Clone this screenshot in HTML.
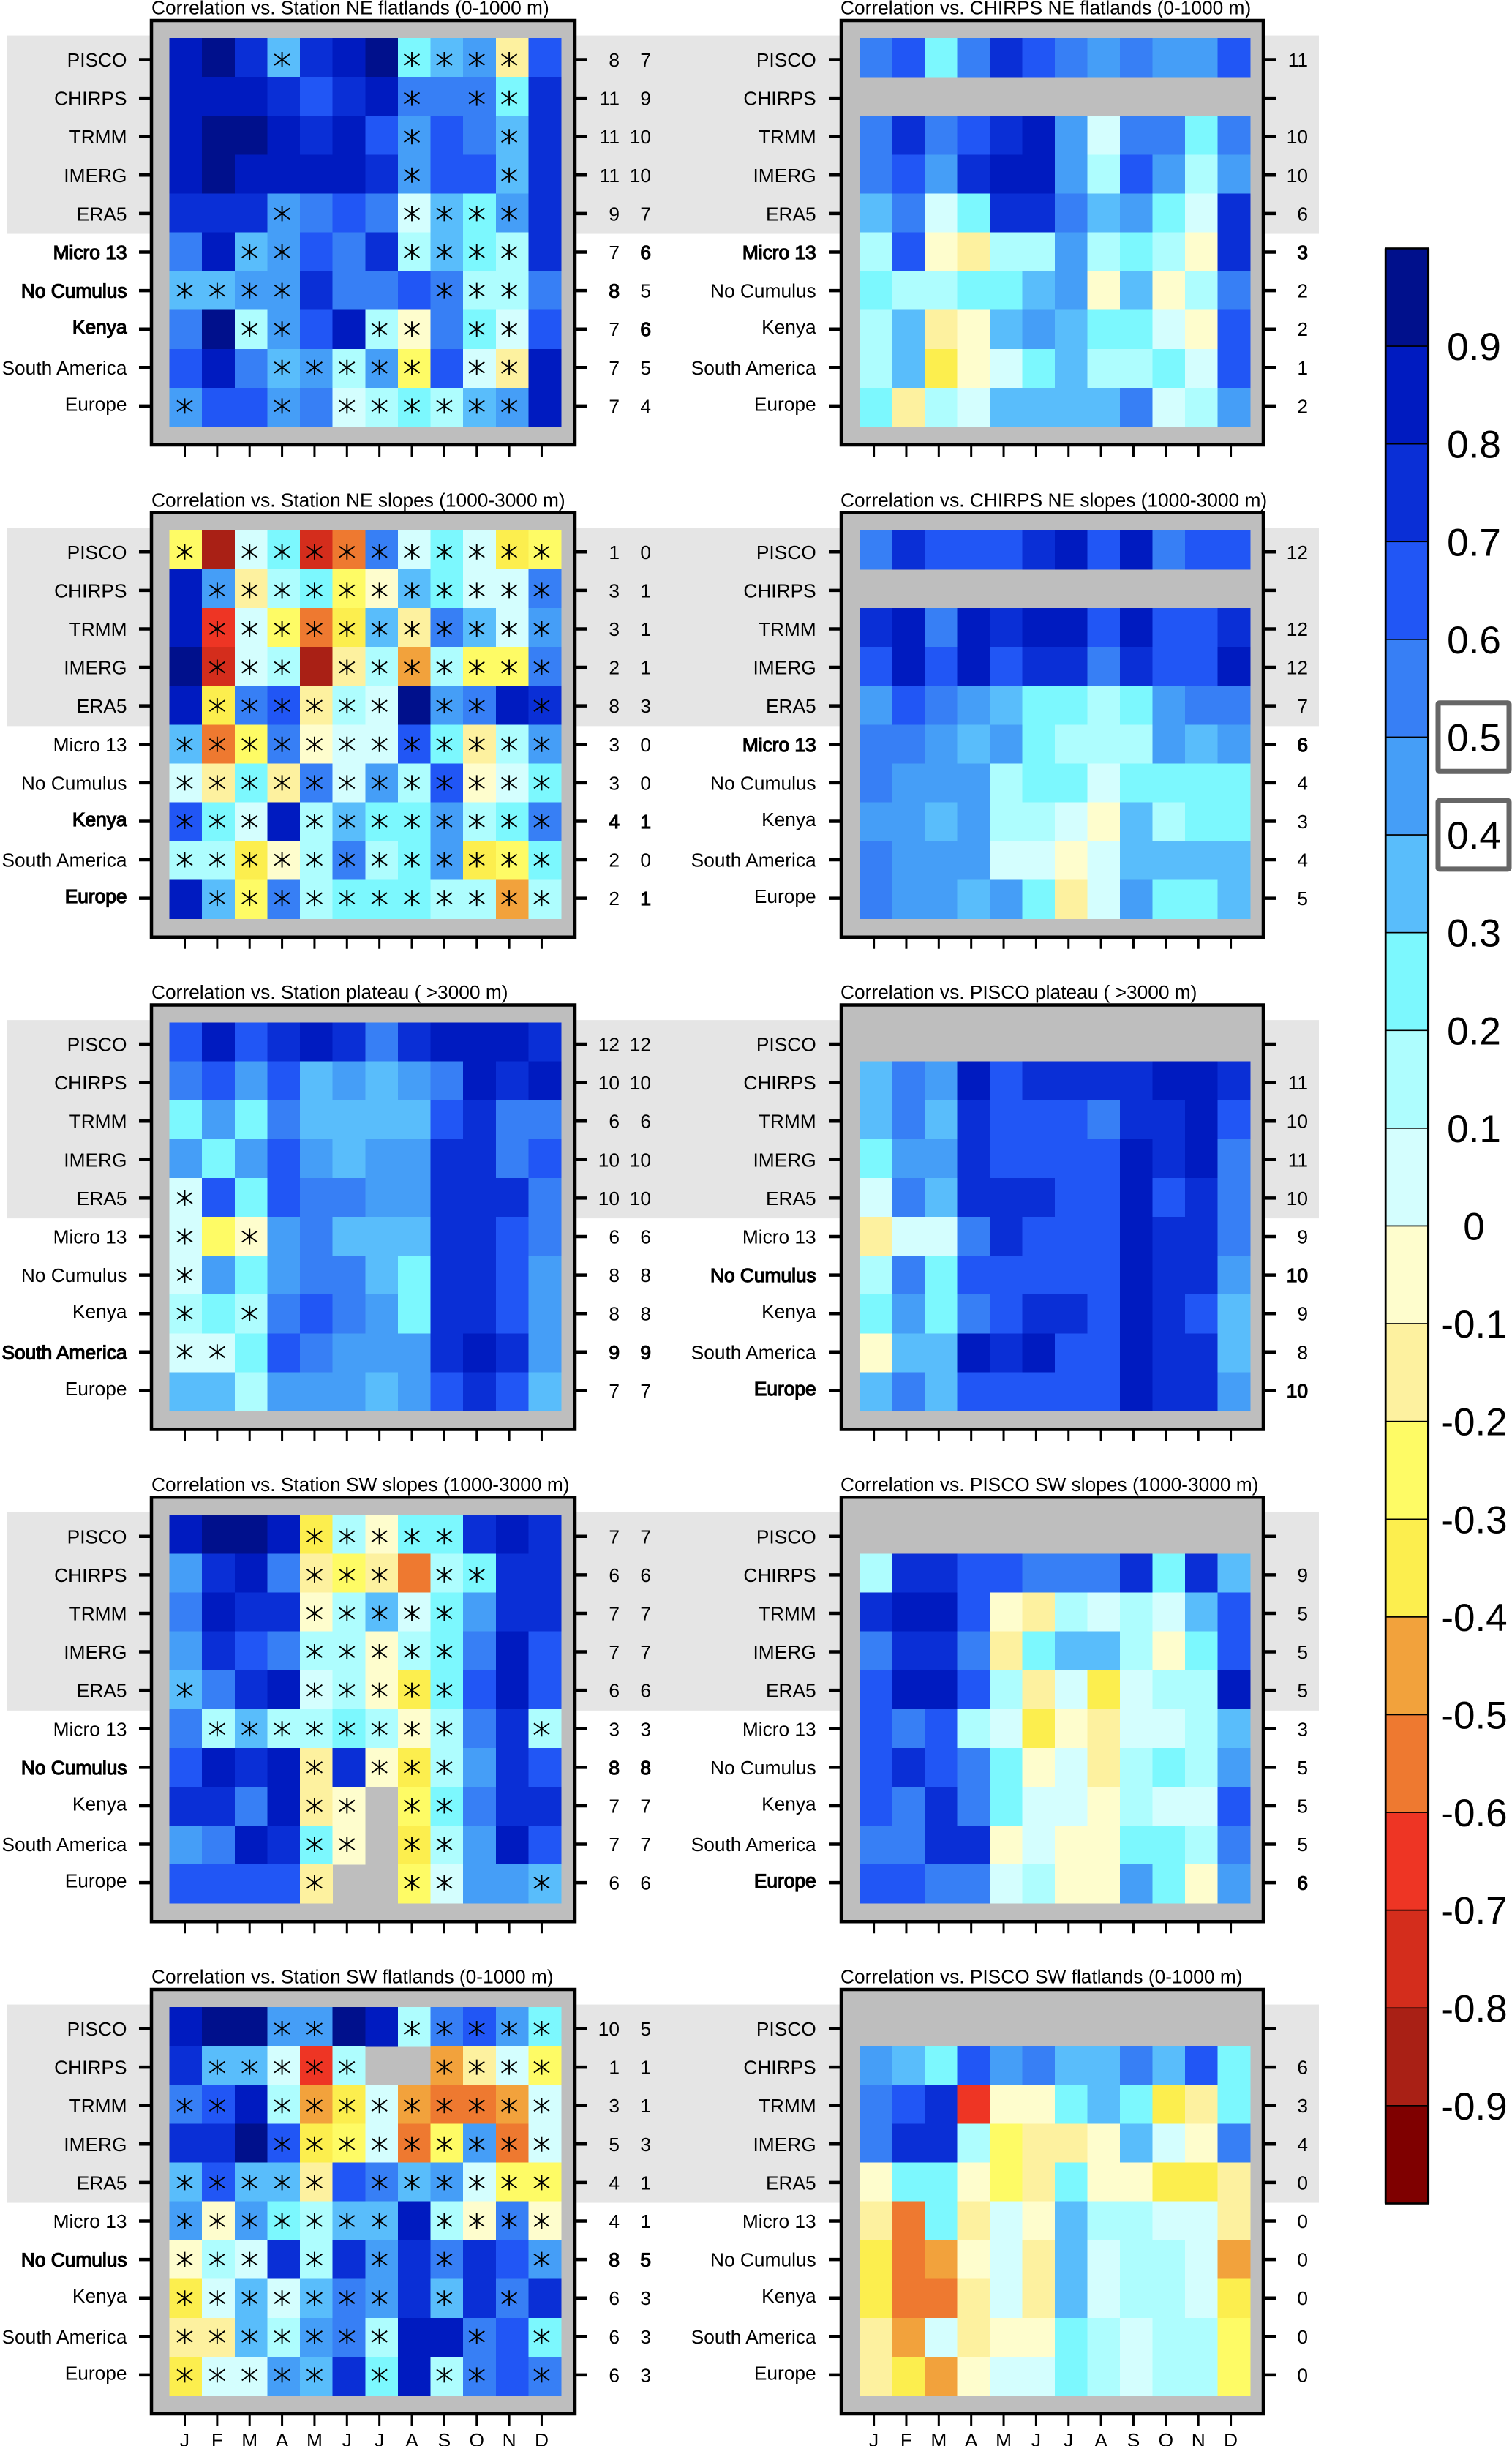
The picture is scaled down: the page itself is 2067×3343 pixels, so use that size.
<!DOCTYPE html>
<html lang="en">
<head>
<meta charset="utf-8">
<title>Correlation heatmaps</title>
<style>
html,body{margin:0;padding:0;background:#fff;}
svg{display:block;}
text{font-family:"Liberation Sans",Arial,sans-serif;fill:#000;}
</style>
</head>
<body>
<svg id="figure" xmlns="http://www.w3.org/2000/svg" width="2067" height="3343" viewBox="0 0 2067 3343">
<g id="bands"></g>
<g id="panels"></g>
<g id="colorbar"></g>
</svg>
<script>
// Shared categories
const rowLabels = ["PISCO","CHIRPS","TRMM","IMERG","ERA5","Micro 13","No Cumulus","Kenya","South America","Europe"];
const monthLabels = ["J","F","M","A","M","J","J","A","S","O","N","D"];
const colorbarLabels = ["0.9","0.8","0.7","0.6","0.5","0.4","0.3","0.2","0.1","0","-0.1","-0.2","-0.3","-0.4","-0.5","-0.6","-0.7","-0.8","-0.9"];
const highlightedLabels = ["0.5","0.4"];
const binColors = ["#00108c","#001bc0","#0a2fd6","#2156f5","#377ff5","#459ef7","#59bdfb","#7cf8fe","#aefdfe","#d4fefe","#fefdcd","#fdf19f","#fefb65","#fcee4e","#f2a23c","#ee7930","#ee3524","#d42d1c","#a92015","#7f0000"];

// Values are correlation x 100; null means no data
const N = null;
const title1 = "Correlation vs. Station NE flatlands (0-1000 m)";
const values1 = [
[85,95,75,35,75,85,95,25,35,45,-15,65],
[85,85,85,75,65,75,85,55,55,55,25,75],
[85,95,95,85,75,85,65,45,65,55,35,75],
[85,95,85,85,85,85,75,45,65,65,35,75],
[75,75,75,45,55,65,55,5,35,25,45,75],
[55,85,35,45,65,55,75,15,35,25,15,75],
[35,35,45,45,75,55,55,65,55,15,15,55],
[55,95,15,45,65,85,15,-5,55,25,5,65],
[65,85,55,35,45,15,45,-25,65,5,-15,85],
[45,65,65,45,55,5,15,25,15,35,45,85]];
const stars1 = [[3,7,8,9,10],[7,9,10],[7,10],[7,10],[3,7,8,9,10],[2,3,7,8,9,10],[0,1,2,3,8,9,10],[2,3,6,7,9,10],[3,4,5,6,7,9,10],[0,3,5,6,7,8,9,10]];
const counts1 = [[8,7],[11,9],[11,10],[11,10],[9,7],[7,6],[8,5],[7,6],[7,5],[7,4]];

const title2 = "Correlation vs. CHIRPS NE flatlands (0-1000 m)";
const values2 = [
[55,65,25,55,75,65,55,45,55,45,45,65],
[N,N,N,N,N,N,N,N,N,N,N,N],
[55,75,55,65,75,85,45,5,55,55,25,55],
[55,65,45,75,85,85,45,15,65,45,15,45],
[35,55,5,25,75,75,55,35,45,25,5,75],
[15,65,-5,-15,15,15,45,15,25,15,-5,75],
[25,15,15,25,25,35,45,-5,35,-5,15,55],
[15,35,-15,-5,35,45,35,25,25,5,-5,65],
[15,35,-35,-5,5,25,35,15,15,25,5,65],
[25,-15,15,5,35,35,35,35,55,5,15,45]];
const stars2 = [[],[],[],[],[],[],[],[],[],[]];
const counts2 = [[11],[N],[10],[10],[6],[3],[2],[2],[1],[2]];

const title3 = "Correlation vs. Station NE slopes (1000-3000 m)";
const values3 = [
[-25,-85,5,25,-75,-55,55,5,25,5,-35,-25],
[85,45,-15,15,25,-25,-5,35,25,5,5,55],
[85,-65,5,-25,-55,-35,35,-15,55,35,5,45],
[95,-75,5,15,-85,-15,15,-45,15,-25,-25,55],
[85,-35,55,65,-15,15,5,95,45,55,85,75],
[35,-55,-25,55,-5,5,5,65,25,-15,15,45],
[5,-15,25,-15,55,5,45,15,65,-5,5,25],
[65,25,5,85,15,35,25,25,45,15,25,55],
[15,15,-35,-5,15,55,15,25,45,-35,-25,25],
[85,35,-25,55,15,25,25,25,15,15,-45,15]];
const stars3 = [[0,2,3,4,5,6,7,8,9,10,11],[1,2,3,4,5,6,7,8,9,10,11],[1,2,3,4,5,6,7,8,9,10,11],[1,2,3,5,6,7,8,9,10,11],[1,2,3,4,5,6,8,9,11],[0,1,2,3,4,5,6,7,8,9,10,11],[0,1,2,3,4,5,6,7,8,9,10,11],[0,1,2,4,5,6,7,8,9,10,11],[0,1,2,3,4,5,6,7,8,9,10,11],[1,2,3,4,5,6,7,8,9,10,11]];
const counts3 = [[1,0],[3,1],[3,1],[2,1],[8,3],[3,0],[3,0],[4,1],[2,0],[2,1]];

const title4 = "Correlation vs. CHIRPS NE slopes (1000-3000 m)";
const values4 = [
[55,75,65,65,65,75,85,65,85,55,65,65],
[N,N,N,N,N,N,N,N,N,N,N,N],
[75,85,55,85,75,85,85,65,85,65,65,75],
[65,85,65,85,65,75,75,55,75,65,65,85],
[45,65,55,45,35,25,25,15,25,45,55,55],
[55,55,45,35,45,25,15,15,15,45,35,45],
[55,45,45,45,15,25,25,5,25,25,25,25],
[45,45,35,45,15,15,5,-5,35,15,25,25],
[55,45,45,45,5,5,-5,5,35,35,35,35],
[55,45,45,35,45,25,-15,5,45,25,25,35]];
const stars4 = [[],[],[],[],[],[],[],[],[],[]];
const counts4 = [[12],[N],[12],[12],[7],[6],[4],[3],[4],[5]];

const title5 = "Correlation vs. Station plateau ( >3000 m)";
const values5 = [
[65,85,65,75,85,75,55,75,85,85,85,75],
[55,65,45,65,35,45,35,45,55,85,75,85],
[25,45,25,55,35,35,35,35,65,75,55,55],
[45,25,45,65,45,35,45,45,75,75,55,65],
[5,65,25,65,55,55,45,45,75,75,75,55],
[5,-25,-5,45,55,35,35,35,75,75,65,55],
[5,45,25,45,55,55,35,25,75,75,65,45],
[15,25,15,55,65,55,45,25,75,75,65,45],
[5,5,25,65,55,45,45,45,75,85,75,45],
[35,35,15,45,45,45,35,45,65,75,65,35]];
const stars5 = [[],[],[],[],[0],[0,2],[0],[0,2],[0,1],[]];
const counts5 = [[12,12],[10,10],[6,6],[10,10],[10,10],[6,6],[8,8],[8,8],[9,9],[7,7]];

const title6 = "Correlation vs. PISCO plateau ( >3000 m)";
const values6 = [
[N,N,N,N,N,N,N,N,N,N,N,N],
[35,55,45,85,65,75,75,75,75,85,85,75],
[35,55,35,75,65,65,65,55,75,75,85,65],
[25,45,45,75,65,65,65,65,85,75,85,55],
[5,55,35,75,75,75,65,65,85,65,75,55],
[-15,5,5,55,75,65,65,65,85,75,75,55],
[15,55,25,65,65,65,65,65,85,75,75,45],
[25,45,25,55,65,75,75,65,85,75,65,35],
[-5,35,35,85,75,85,65,65,85,75,75,35],
[35,55,35,65,65,65,65,65,85,75,75,45]];
const stars6 = [[],[],[],[],[],[],[],[],[],[]];
const counts6 = [[N],[11],[10],[11],[10],[9],[10],[9],[8],[10]];

const title7 = "Correlation vs. Station SW slopes (1000-3000 m)";
const values7 = [
[85,95,95,85,-35,15,-5,25,25,75,85,75],
[45,75,85,55,-15,-25,-15,-55,15,25,75,75],
[55,85,75,75,-5,15,35,5,25,45,75,75],
[45,75,65,55,15,15,-5,15,25,55,85,65],
[35,55,75,85,5,15,-5,-35,25,65,85,65],
[55,15,35,15,15,25,15,-5,15,55,75,15],
[65,85,75,85,-15,75,-5,-35,15,45,75,65],
[75,75,55,85,-15,-5,N,-25,25,55,75,75],
[45,55,85,75,25,-5,N,-35,15,45,85,65],
[65,65,65,65,-15,N,N,-25,5,45,45,35]];
const stars7 = [[4,5,6,7,8],[4,5,6,8,9],[4,5,6,7,8],[4,5,6,7,8],[0,4,5,6,7,8],[1,2,3,4,5,6,7,8,11],[4,6,7,8],[4,5,7,8],[4,5,7,8],[4,7,8,11]];
const counts7 = [[7,7],[6,6],[7,7],[7,7],[6,6],[3,3],[8,8],[7,7],[7,7],[6,6]];

const title8 = "Correlation vs. PISCO SW slopes (1000-3000 m)";
const values8 = [
[N,N,N,N,N,N,N,N,N,N,N,N],
[15,75,75,65,65,55,55,55,75,25,75,35],
[75,85,85,65,-5,-15,15,5,15,5,35,65],
[55,75,75,55,-15,25,35,35,15,-5,25,65],
[65,85,85,65,15,-15,5,-35,5,15,15,85],
[65,55,65,15,5,-35,-5,-15,5,5,15,35],
[65,75,65,55,25,-5,5,-15,15,25,15,45],
[65,55,75,55,25,5,5,-5,15,5,5,65],
[55,55,75,75,-5,5,-5,-5,25,25,15,55],
[65,65,55,55,5,15,-5,-5,45,25,-5,45]];
const stars8 = [[],[],[],[],[],[],[],[],[],[]];
const counts8 = [[N],[9],[5],[5],[5],[3],[5],[5],[5],[6]];

const title9 = "Correlation vs. Station SW flatlands (0-1000 m)";
const values9 = [
[85,95,95,45,45,95,85,15,55,65,45,25],
[75,35,35,5,-65,15,N,N,-45,-15,5,-25],
[55,65,85,15,-45,-35,5,-45,-55,-55,-45,5],
[75,75,95,65,-35,-25,5,-55,-25,45,-55,5],
[35,65,35,35,-15,65,55,35,45,5,-25,-25],
[45,-5,45,25,15,35,35,85,15,-5,55,-5],
[-5,15,5,75,15,75,45,75,55,75,65,45],
[-35,5,35,5,35,55,45,75,35,75,55,75],
[-15,-15,35,15,45,55,15,85,85,55,65,25],
[-35,5,5,45,35,75,25,85,15,55,65,55]];
const stars9 = [[3,4,7,8,9,10,11],[1,2,3,4,5,8,9,10,11],[0,1,3,4,5,6,7,8,9,10,11],[3,4,5,6,7,8,9,10,11],[0,1,2,3,4,6,7,8,9,10,11],[0,1,2,3,4,5,6,8,9,10,11],[0,1,2,4,6,8,11],[0,1,2,3,4,5,6,8,10],[0,1,2,3,4,5,6,9,11],[0,1,2,3,4,6,8,9,11]];
const counts9 = [[10,5],[1,1],[3,1],[5,3],[4,1],[4,1],[8,5],[6,3],[6,3],[6,3]];

const title10 = "Correlation vs. PISCO SW flatlands (0-1000 m)";
const values10 = [
[N,N,N,N,N,N,N,N,N,N,N,N],
[45,35,25,65,45,55,35,35,55,35,65,25],
[55,65,75,-65,-5,-5,25,35,25,-35,-15,25],
[55,75,75,15,-25,-15,-15,-5,35,5,-5,55],
[-5,25,25,-5,-25,-15,25,-5,-5,-35,-35,-15],
[-15,-55,25,-15,5,-5,35,15,15,5,5,-15],
[-35,-55,-45,-5,5,-15,35,5,15,15,5,-45],
[-35,-55,-55,-15,5,-15,35,5,15,15,5,-35],
[-15,-45,5,-15,-5,-5,25,15,5,15,15,-25],
[-15,-35,-45,-5,5,5,25,15,5,15,15,-25]];
const stars10 = [[],[],[],[],[],[],[],[],[],[]];
const counts10 = [[N],[6],[3],[4],[0],[0],[0],[0],[0],[0]];

const panelTitles = [title1,title2,title3,title4,title5,title6,title7,title8,title9,title10];
const panelValues = [values1,values2,values3,values4,values5,values6,values7,values8,values9,values10];
const panelStars = [stars1,stars2,stars3,stars4,stars5,stars6,stars7,stars8,stars9,stars10];
const panelCounts = [counts1,counts2,counts3,counts4,counts5,counts6,counts7,counts8,counts9,counts10];

// Layout
const SVGNS = "http://www.w3.org/2000/svg";
const PANEL_TOP = 28, PANEL_STEP = 672.75, PANEL_H = 580;
const GRID_TOP = 24, GRID_H = 531;
const TICK_Y0 = 53.5, TICK_DY = 52.6, TICK_STEP_X = 44.36;
const FONT = 26.3;
const colLayouts = [
  {left:207, right:786, gridL:231.5, gridR:767, tick0:252.5, label:173.5, countX:[847,890], titleX:207},
  {left:1150, right:1727, gridL:1175, gridR:1709, tick0:1194.6, label:1115.7, countX:[1788], titleX:1149}
];

function mk(tag, attrs, parent, txt){
  const el = document.createElementNS(SVGNS, tag);
  for (const k in attrs) el.setAttribute(k, attrs[k]);
  if (txt !== undefined) el.textContent = txt;
  parent.appendChild(el);
  return el;
}
function slug(s){ return s.toLowerCase().replace(/[^a-z0-9]+/g,'-').replace(/^-|-$/g,''); }
function binIndex(v){ return Math.max(0, Math.min(19, Math.floor((100 - v) / 10))); }
function colorOf(v){ return binColors[binIndex(v)]; }
function fauxBold(bold){ return bold ? {stroke:"#000","stroke-width":"1.2"} : {}; }
function labelLift(label){ return /[pyg]/.test(label) ? 3 : 0; }
function bestInModelRows(counts, c){
  let m = 0;
  for (let r = 5; r < counts.length; r++) if (counts[r][c] !== null && counts[r][c] > m) m = counts[r][c];
  return m;
}

const bandsG = document.getElementById('bands');
const panelsG = document.getElementById('panels');
const barG = document.getElementById('colorbar');

panelValues.forEach(function(values, p){
  const col = colLayouts[p % 2];
  const rowIdx = Math.floor(p / 2);
  const top = PANEL_TOP + rowIdx * PANEL_STEP;
  const g = mk('g', {}, panelsG);
  
  

  if (p % 2 === 0) {
    const band = mk('rect', {x:9, y:top + 20.6, width:1794, height:271, fill:"#e5e5e5"}, bandsG);
    
    
  }

  const xCell = function(c){ return col.gridL + c * (col.gridR - col.gridL) / 12; };
  const yCell = function(r){ return top + GRID_TOP + r * GRID_H / 10; };
  const xTick = function(c){ return col.tick0 + c * TICK_STEP_X; };
  const yTick = function(r){ return top + TICK_Y0 + r * TICK_DY; };

  const title = mk('text', {x:col.titleX, y:top - 8.5, "font-size":FONT}, g, panelTitles[p]);
  
  

  const bg = mk('rect', {x:col.left, y:top, width:col.right - col.left, height:PANEL_H, fill:"#bebebe"}, g);
  
  

  values.forEach(function(row, r){
    row.forEach(function(v, c){
      if (v === null) return;
      const cell = mk('rect', {x:xCell(c), y:yCell(r), width:(col.gridR - col.gridL) / 12 + 0.4, height:GRID_H / 10 + 0.4, fill:colorOf(v), "shape-rendering":"crispEdges"}, g);
      
      
    });
  });

  panelStars[p].forEach(function(cols, r){
    cols.forEach(function(c){
      const cx = xTick(c), cy = yTick(r);
      const d = "M" + cx + " " + (cy - 10.5) + "V" + (cy + 10.5) +
        "M" + (cx - 10.5) + " " + (cy - 7.5) + "L" + (cx + 10.5) + " " + (cy + 7.5) +
        "M" + (cx - 10.5) + " " + (cy + 7.5) + "L" + (cx + 10.5) + " " + (cy - 7.5);
      const star = mk('path', {d:d, stroke:"#000", "stroke-width":"1.9", fill:"none"}, g);
      
      
    });
  });

  const frame = mk('rect', {x:col.left, y:top, width:col.right - col.left, height:PANEL_H, fill:"none", stroke:"#000", "stroke-width":"4.5"}, g);
  
  

  const best = panelCounts[p][0].map(function(_, c){ return bestInModelRows(panelCounts[p], c); });

  rowLabels.forEach(function(label, r){
    const y = yTick(r);
    const counts = panelCounts[p][r];
    const boldFlags = counts.map(function(n, c){ return r >= 5 && n !== null && best[c] > 0 && n === best[c]; });
    const rowBold = boldFlags.some(Boolean);

    const lt = mk('line', {x1:col.left - 17, x2:col.left, y1:y, y2:y, stroke:"#000", "stroke-width":"4.5"}, g);
    
    
    const rt = mk('line', {x1:col.right, x2:col.right + 17, y1:y, y2:y, stroke:"#000", "stroke-width":"4.5"}, g);
    
    

    const lab = mk('text', Object.assign({x:col.label, y:y + 9.5 - labelLift(label), "font-size":FONT, "text-anchor":"end"}, fauxBold(rowBold)), g, label);
    
    

    counts.forEach(function(n, c){
      if (n === null) return;
      const ct = mk('text', Object.assign({x:col.countX[c], y:y + 9.5, "font-size":FONT, "text-anchor":"end"}, fauxBold(boldFlags[c])), g, String(n));
      
      
    });
  });

  monthLabels.forEach(function(m, c){
    const x = xTick(c);
    const bt = mk('line', {x1:x, x2:x, y1:top + PANEL_H, y2:top + PANEL_H + 16, stroke:"#000", "stroke-width":"3"}, g);
    
    
    if (rowIdx === 4) {
      const mt = mk('text', {x:x, y:3344, "font-size":FONT, "text-anchor":"middle"}, g, m);
      
      
    }
  });
});

// Colorbar
const BAR_L = 1894.3, BAR_W = 58, BAR_T = 339.5, SEG_H = 133.6, BAR_LABEL_X = 2015;
const barShadow = mk('rect', {x:BAR_L - 2, y:BAR_T, width:BAR_W + 4, height:SEG_H * binColors.length, fill:"#b5b5b5"}, barG);


binColors.forEach(function(color, i){
  const seg = mk('rect', {x:BAR_L, y:BAR_T + i * SEG_H, width:BAR_W, height:SEG_H, fill:color, stroke:"#000", "stroke-width":"1.6"}, barG);
  
  
});
const barFrame = mk('rect', {x:BAR_L, y:BAR_T, width:BAR_W, height:SEG_H * binColors.length, fill:"none", stroke:"#000", "stroke-width":"2.6"}, barG);


colorbarLabels.forEach(function(label, i){
  const y = BAR_T + (i + 1) * SEG_H;
  if (highlightedLabels.indexOf(label) >= 0) {
    const box = mk('rect', {x:1966, y:y - 46.8, width:97, height:93.6, rx:2, fill:"#fff", stroke:"#666", "stroke-width":"7"}, barG);
    
    
  }
  const t = mk('text', {x:BAR_LABEL_X, y:y + 19, "font-size":"53", "text-anchor":"middle"}, barG, label);
  
  
});
</script>
</body>
</html>
